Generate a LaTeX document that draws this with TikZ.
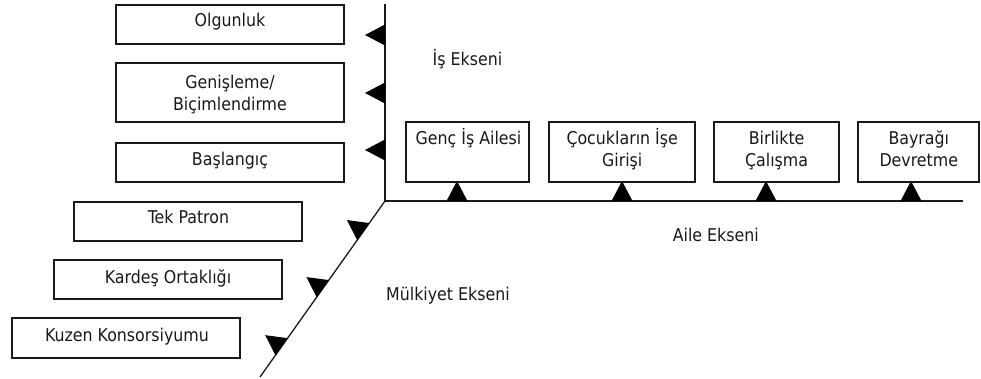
\documentclass[tikz,border=0pt]{standalone}
\usepackage{fontspec}
\setmainfont{DejaVu Sans Condensed}
\usetikzlibrary{calc}

% two centred lines; the node's base is the first line's baseline
\newcommand\stacked[2]{\begin{tabular}[t]{@{}c@{}}#1\\#2\end{tabular}}

\tikzset{
  box/.style={draw=black!90, line width=1.4pt, rectangle, inner sep=0pt},
  leftbox/.style={box, minimum width=228pt, minimum height=39pt},
  topbox/.style={box, minimum height=60pt},
  lbl/.style={anchor=base, inner sep=0pt, text=black!90,
              font=\fontsize{17.6}{21.5}\selectfont},
  axis/.style={draw=black!90, line width=1.3pt},
  axismark/.pic={\fill[black] (0,-10.5) -- (0,10.5) -- (-20,0) -- cycle;}
}

\begin{document}
\begin{tikzpicture}[x=1pt,y=-1pt]
\useasboundingbox (0,0) rectangle (981,378);

% the three axes
\coordinate (top)   at (385,4);
\coordinate (O)     at (385,201);
\coordinate (right) at (963,201);
\coordinate (low)   at (260,377);
\draw[axis] (top) -- (O) -- (right);
\draw[axis] (O) -- (low);

% markers on the axes
\foreach \y in {35,93,150}
  \pic at (385,\y) {axismark};
\foreach \x in {457,622,766,911}
  \pic[rotate=-90] at (\x,201) {axismark};
\foreach \t in {0.174,0.498,0.828}
  \pic[rotate=-35.3] at ($(O)!\t!(low)$) {axismark};

% stages of the business axis
\node[leftbox] (olg) at (230,24.5) {};
\node[lbl] (olg-t) at (230,26.5) {Olgunluk};
\node[leftbox, minimum height=59pt] (gen) at (230,92.5) {};
\node[lbl] (gen-t) at (230,88.5) {\stacked{Genişleme/}{Biçimlendirme}};
\node[leftbox] (bas) at (230,162.5) {};
\node[lbl] (bas-t) at (230,165) {Başlangıç};

% stages of the ownership axis
\node[leftbox] (tek) at (188,221.5) {};
\node[lbl] (tek-t) at (188.5,223) {Tek Patron};
\node[leftbox] (kar) at (168,279.5) {};
\node[lbl] (kar-t) at (168,283) {Kardeş Ortaklığı};
\node[leftbox, minimum height=40pt] (kuz) at (126,338) {};
\node[lbl] (kuz-t) at (127,341.5) {Kuzen Konsorsiyumu};

% stages of the family axis
\node[topbox, minimum width=123pt] (genc) at (467.5,152) {};
\node[lbl] (genc-t) at (468.5,144.5) {Genç İş Ailesi};
\node[topbox, minimum width=146pt] (coc) at (622,152) {};
\node[lbl] (coc-t) at (622.2,144.5) {\stacked{Çocukların İşe}{Girişi}};
\node[topbox, minimum width=125pt] (bir) at (776.5,152) {};
\node[lbl] (bir-t) at (776.6,144.5) {\stacked{Birlikte}{Çalışma}};
\node[topbox, minimum width=121pt] (bay) at (918.5,152) {};
\node[lbl] (bay-t) at (918.8,144.5) {\stacked{Bayrağı}{Devretme}};

% axis names
\node[lbl] (is-ekseni) at (467.5,65) {İş Ekseni};
\node[lbl] (aile-ekseni) at (715.8,241) {Aile Ekseni};
\node[lbl] (mulk-ekseni) at (448,300) {Mülkiyet Ekseni};
\end{tikzpicture}
\end{document}
